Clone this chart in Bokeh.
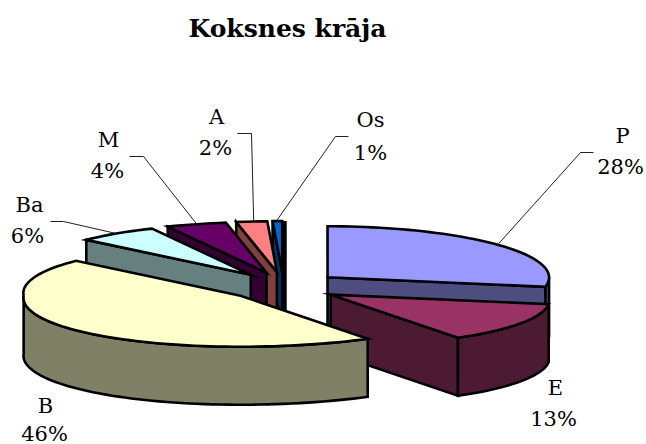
import math
import numpy as np
from bokeh.plotting import figure
from bokeh.models import Range1d
from bokeh.embed import file_html
from bokeh.resources import INLINE
from bokeh.core.properties import value

title = "Koksnes krāja"
names = ["P", "E", "B", "Ba", "M", "A", "Os"]
shares = [28, 13, 46, 6, 4, 2, 1]
top_colors = ["#9999FF", "#993366", "#FFFFCC", "#CCFFFF", "#660066", "#FF8080", "#0066CC"]
side_colors = ["#4D4D80", "#4D1A33", "#808066", "#668080", "#330033", "#804040", "#003366"]

# projection of the exploded 3-D pie
OX, OY = 283.5, 286.0
RX, RY = 219.0, 51.0
EXPX, EXPY = 56.5, 14.5
DEPTH = 58.0
# horizontal stretch of the rim around the circle (perspective of the original)
warp_angle = [0, 60, 100, 148, 200, 270, 313, 335, 349, 356.4, 360]
warp_factor = [1.0, 1.01, 1.012, 1.085, 1.04, 0.99, 1.03, 1.06, 1.0, 0.7, 1.0]

# which radial faces can be seen, per slice
face_start = {"Ba", "M", "A", "Os"}
face_end = {"P", "E"}
draw_order = ["Os", "A", "M", "Ba", "P", "E", "B"]

# label layout: name centre, value centre, leader elbow, leader end
label_pos = {
    "P": ((622, 135), (620, 166), (580, 152), (593, 152)),
    "E": ((555, 387), (553, 418), None, None),
    "B": ((45, 405), (44, 433), None, None),
    "Ba": ((29, 204), (27, 235), (63, 221), (50, 221)),
    "M": ((108, 139), (107, 170), (143, 156), (129, 156)),
    "A": ((216, 116), (215, 147), (251, 133), (237, 133)),
    "Os": ((370, 119), (370, 152), (335, 136), (348, 136)),
}

p = figure(width=646, height=444, output_backend="svg", toolbar_location=None,
           x_range=Range1d(0, 646), y_range=Range1d(444, 0), min_border=0)
p.axis.visible = False
p.grid.visible = False
p.outline_line_color = None
p.background_fill_color = "white"

# slice angles from the shares
geom = {}
cum = 0.0
total = sum(shares)
for n, s in zip(names, shares):
    a1 = cum / total * 360
    cum += s
    a2 = cum / total * 360
    geom[n] = (a1, a2)


def rim(cx, cy, a):
    r = math.radians(a)
    f = float(np.interp(a, warp_angle, warp_factor))
    return cx + RX * f * math.sin(r), cy - RY * math.cos(r)


def arc(cx, cy, a1, a2):
    n = max(2, int((a2 - a1) / 2) + 2)
    return [rim(cx, cy, a1 + (a2 - a1) * i / (n - 1)) for i in range(n)]


def poly(pts, color):
    p.patch([q[0] for q in pts], [q[1] for q in pts], fill_color=color,
            line_color="black", line_width=2.6, line_join="miter")


def radial(cx, cy, a, color):
    o = rim(cx, cy, a)
    poly([(cx, cy), o, (o[0], o[1] + DEPTH), (cx, cy + DEPTH)], color)


color_of = dict(zip(names, zip(top_colors, side_colors)))
apexes = {}
for n in draw_order:
    a1, a2 = geom[n]
    mid = math.radians((a1 + a2) / 2)
    cx = OX + EXPX * math.sin(mid)
    cy = OY - EXPY * math.cos(mid)
    apexes[n] = (cx, cy)
    top, side = color_of[n]
    if n in face_start:
        radial(cx, cy, a1, side)
    if n in face_end:
        radial(cx, cy, a2, side)
    lo, hi = max(a1, 90), min(a2, 270)
    if lo < hi:
        upper = arc(cx, cy, lo, hi)
        poly(upper + [(x, y + DEPTH) for x, y in reversed(upper)], side)
    if n == "Os":
        # near edge-on closing face of the last slice
        o = rim(cx, cy, a2)
        p.line([o[0] + 2, o[0] + 2, cx + 2], [o[1], o[1] + DEPTH, cy + DEPTH],
               line_color="black", line_width=5)
    poly([(cx, cy)] + arc(cx, cy, a1, a2), top)

# leaders and labels
font = value("DejaVu Serif")
for n, s in zip(names, shares):
    name_xy, val_xy, elbow, end = label_pos[n]
    if elbow is not None:
        a1, a2 = geom[n]
        st = rim(*apexes[n], (a1 + a2) / 2)
        p.line([st[0], elbow[0], end[0]], [st[1], elbow[1], end[1]],
               line_color="#202020", line_width=1)
    p.text([name_xy[0]], [name_xy[1]], text=[n], text_font=font, text_font_size="21px",
           text_align="center", text_baseline="middle", text_color="black")
    p.text([val_xy[0]], [val_xy[1]], text=[f"{s}%"], text_font=font, text_font_size="21px",
           text_align="center", text_baseline="middle", text_color="black")

p.text([287], [28], text=[title], text_font=font, text_font_size="25px",
       text_font_style="bold", text_align="center", text_baseline="middle", text_color="black")

open("out.html", "w").write(file_html(p, INLINE))
